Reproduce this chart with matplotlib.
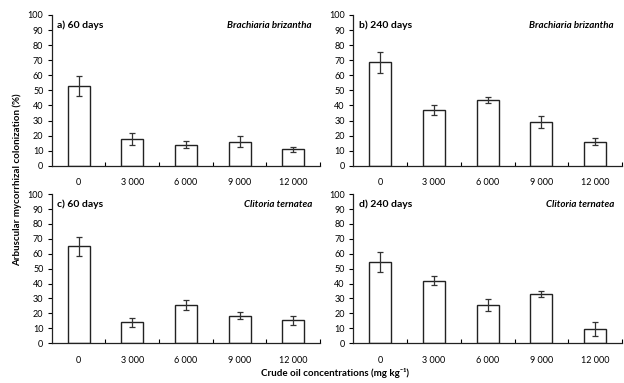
import matplotlib.pyplot as plt #plotting functions
import numpy as np #number functions

plt.rcParams['font.family'] = ['Lato', 'DejaVu Sans']

conc = ['0', '3 000', '6 000', '9 000', '12 000'] #crude oil concentrations (mg/kg)

a_mean = [53, 17.5, 14, 16, 11] #a) 60 days Brachiaria
a_err = [6.5, 4, 2.5, 3.5, 1.5]
b_mean = [68.5, 37, 43.5, 29, 16] #b) 240 days Brachiaria
b_err = [7, 3, 2, 4, 2.5]
c_mean = [65, 14, 25.5, 18.5, 15.5] #c) 60 days Clitoria
c_err = [6.5, 3, 3.5, 2.5, 3]
d_mean = [54.5, 42, 25.5, 33, 9.5] #d) 240 days Clitoria
d_err = [7, 3, 4, 2, 4.5]

panels = [
    ('a) 60 days', 'Brachiaria brizantha', a_mean, a_err, [0.083, 0.567, 0.430, 0.394]),
    ('b) 240 days', 'Brachiaria brizantha', b_mean, b_err, [0.566, 0.567, 0.431, 0.394]),
    ('c) 60 days', 'Clitoria ternatea', c_mean, c_err, [0.083, 0.104, 0.430, 0.389]),
    ('d) 240 days', 'Clitoria ternatea', d_mean, d_err, [0.566, 0.104, 0.431, 0.389]),
]

fig = plt.figure(figsize=(6.24, 3.83), dpi=100) #624x383 px
x = np.arange(len(conc))

for title, species, mean, err, pos in panels:
    ax = fig.add_axes(pos)
    ax.bar(x, mean, width=0.41, color='white', edgecolor='#222222', lw=1)
    ax.errorbar(x, mean, yerr=err, fmt='none', ecolor='#333333', elinewidth=0.9, capsize=2, capthick=0.9)
    ax.set_xlim(-0.5, 4.5)
    ax.set_ylim(0, 100)
    ax.set_yticks(range(0, 101, 10))
    ax.set_xticks(x)
    ax.set_xticklabels(conc)
    ax.set_xticks(np.arange(0.5, 5, 1), minor=True)
    ax.tick_params(axis='x', which='major', length=0, pad=9, labelsize=6.5)
    ax.tick_params(axis='x', which='minor', direction='in', length=3, width=0.8)
    ax.tick_params(axis='y', direction='out', length=3, width=0.8, labelsize=6.5, pad=3)
    for s in ['top', 'right']:
        ax.spines[s].set_visible(False)
    for s in ['left', 'bottom']:
        ax.spines[s].set_linewidth(0.9)
        ax.spines[s].set_color('#222222')
    ax.text(0.02, 0.93, title, transform=ax.transAxes, fontsize=7.5, fontweight='bold', va='center')
    ax.text(0.97, 0.93, species, transform=ax.transAxes, fontsize=7, fontweight='bold', style='italic', ha='right', va='center')

fig.text(0.027, 0.53, 'Arbuscular mycorrhizal colonization (%)', rotation=90, fontsize=7, fontweight='bold', ha='center', va='center') #y label
fig.text(0.537, 0.025, 'Crude oil concentrations (mg kg\u207b\u00b9)', fontsize=7, fontweight='bold', ha='center', va='center') #x label

plt.savefig('out.png', dpi=100) #save figure
